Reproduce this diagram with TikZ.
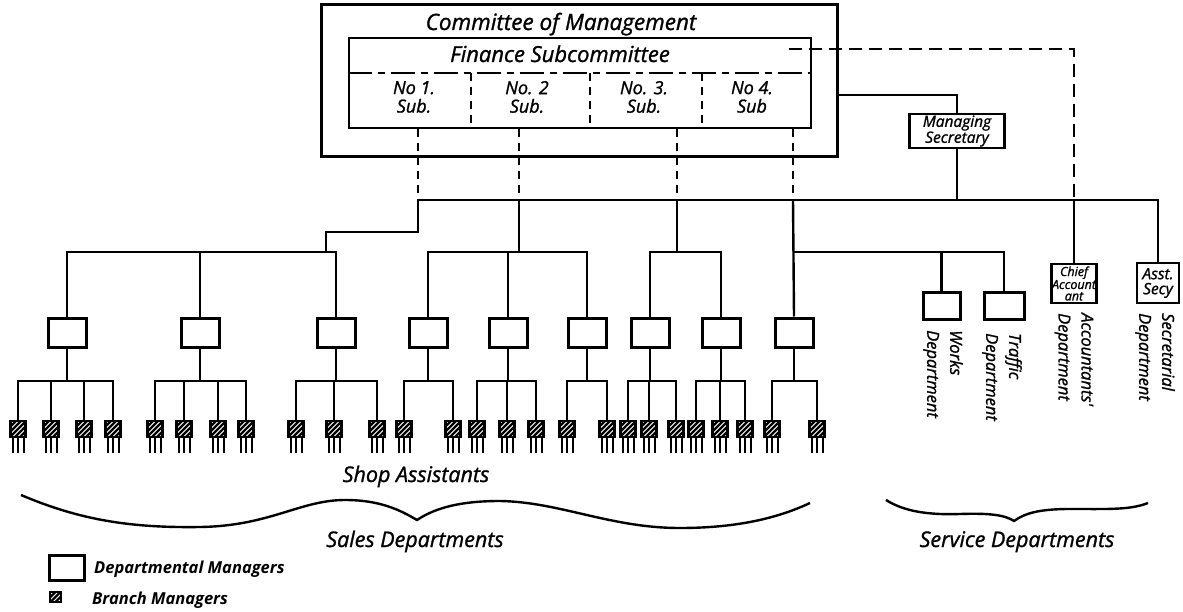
\documentclass[tikz,border=0pt]{standalone}
\usepackage{fontspec}
\setmainfont{Open Sans}
\newfontfamily\lab{Open Sans}[FakeBold=1.2]
\newfontfamily\labb{Open Sans}
\usetikzlibrary{calc}
\begin{document}
\begin{tikzpicture}[x=1pt,y=-1pt,
  ln/.style={line width=2.4pt},
  leg/.style={line width=2pt},
  dsh/.style={line width=2.2pt, dash pattern=on 8pt off 6pt},
  dshl/.style={line width=2.2pt, dash pattern=on 13pt off 7pt},
  dashdot/.style={line width=2.4pt, dash pattern=on 24pt off 6pt on 7pt off 6pt},
  dm/.style={draw, line width=3pt, minimum width=38pt, minimum height=29pt, inner sep=0pt},
  bm/.style={draw, line width=2.2pt, minimum width=15pt, minimum height=16pt, inner sep=0pt,
    path picture={\foreach \k in {-10,-5,0,5,10}
      \draw[line width=2.2pt] ([xshift=\k pt-9pt, yshift=-9pt]path picture bounding box.center) -- ++(18pt,18pt);}},
  sbox/.style={draw, line width=2.6pt, inner sep=0pt, align=center},
  ttl/.style={font=\lab\itshape\fontsize{22.5}{24}\selectfont, inner sep=0pt},
  fttl/.style={font=\lab\itshape\fontsize{22}{24}\selectfont, inner sep=0pt},
  sub/.style={font=\lab\itshape\fontsize{18}{18.5}\selectfont, inner sep=0pt, align=center},
  rot/.style={rotate=-90, anchor=west, align=left, inner sep=0pt, font=\lab\itshape\fontsize{16.5}{23}\selectfont},
  big/.style={font=\lab\itshape\fontsize{21.5}{24}\selectfont, inner sep=0pt},
  lgd/.style={font=\labb\bfseries\itshape\fontsize{16.5}{18}\selectfont, inner sep=0pt}
]
\useasboundingbox (0,0) rectangle (1183,612);

% Committee of Management
\node[draw, line width=3pt, minimum width=516pt, minimum height=152pt, inner sep=0pt] (com) at (579,81) {};
\node[ttl, anchor=base] (comt) at (561,30) {Committee of Management};
\node[draw, line width=2.8pt, minimum width=462pt, minimum height=90pt, inner sep=0pt] (fin) at (580,83) {};
\node[fttl, anchor=base] (fint) at (560,62) {Finance Subcommittee};
\coordinate (sepl) at (349,73);
\draw[dashdot] (fin.west |- sepl) -- (fin.east |- sepl);
\foreach \x in {471,590,702} \draw[dsh] (\x,73) -- (\x,128);

\node[sub] (s1) at (414,97) {No 1.\\Sub.};
\node[sub] (s2) at (527,97) {No. 2\\Sub.};
\node[sub] (s3) at (644,97) {No. 3.\\Sub.};
\node[sub] (s4) at (752,97) {No 4.\\Sub};

% Managing secretary and right side
\node[sbox, minimum width=95pt, minimum height=34pt, font=\lab\itshape\fontsize{15.5}{14}\selectfont] (ms) at (957,131) {Managing\\Secretary};
\node[sbox, minimum width=45pt, minimum height=39pt, font=\lab\itshape\fontsize{12.5}{11.5}\selectfont] (ca) at (1074,283.5) {Chief\\Account\\ant};
\node[sbox, minimum width=42pt, minimum height=40pt, font=\lab\itshape\fontsize{15.5}{15}\selectfont] (as) at (1158,283) {Asst.\\Secy};
\node[dm, minimum width=37pt, minimum height=26pt] (wk) at (941.5,306) {};
\node[dm, minimum width=40pt, minimum height=26pt] (tr) at (1004,306) {};

\node[rot] (wkl) at (943,330) {Works\\Department};
\node[rot] (trl) at (1002,333) {Traffic\\Department};
\node[rot] (cal) at (1074,313) {Accountants'\\Department};
\node[rot] (asl) at (1155,313) {Secretarial\\Department};

% junctions on the main bus
\coordinate (j1) at (418,200);
\coordinate (j2) at (519,200);
\coordinate (j3) at (677,200);
\coordinate (j4) at (793,200);
\coordinate (jms) at (957,200);
\coordinate (jca) at (1074,200);
\coordinate (jas) at (1158,200);
\coordinate (stp) at (418,232);
\coordinate (g1) at (326,252);
\coordinate (g2) at (519,252);
\coordinate (g3) at (677,252);
\coordinate (g4) at (793,252);
\coordinate (msk) at (957,95);
\coordinate (dst) at (789,49);
\coordinate (dk) at (1074,49);

% dashed links from the subcommittees
\foreach \j in {j1,j2,j3,j4} \draw[dsh] (fin.south -| \j) -- (\j);
\draw[dshl] (dst) -- (dk) -- (jca);

% solid links
\draw[ln] (com.east |- msk) -| (ms.north);
\draw[ln] (ms.south) -- (jms);
\draw[ln] (j1) -- (jas) -- (as.north);
\draw[ln] (jca) -- (ca.north);
\draw[ln] (j1) -- (stp) -| (g1);
\draw[ln] (j2) -- (g2);
\draw[ln] (j3) -- (g3);

% sales departments
\foreach \i/\dx/\lo/\hi/\lst in {1/67/18/113/{18,51,84,113}, 2/200/155/246/{155,184,218,246},
  3/336/296/377/{296,334,377}, 4/428/404/453/{404,453}, 5/508/477/536/{477,507,536},
  6/587/567/607/{567,607}, 7/650/628/676/{628,649,676}, 8/721/696/745/{696,720,745},
  9/794/772/817/{772,817}} {
  \node[dm] (d\i) at (\dx,332.5) {};
  \coordinate (sb\i) at (\dx,381);
  \foreach \bx in \lst {
    \node[bm] (b\i-\bx) at (\bx,429) {};
    \foreach \o in {-5.5,0,5.5} \draw[leg] ([xshift=\o pt]b\i-\bx.south) -- ++(0,15);
    \draw[ln] (b\i-\bx.north) -- (b\i-\bx.north |- sb\i);
  }
  \draw[ln] (b\i-\lo.north) |- (sb\i) -| (b\i-\hi.north);
  \draw[ln] (d\i.south) -- (sb\i);
}

\draw[ln] (d1.north) |- (g1) -| (d3.north);
\draw[ln] (d2.north) -- (d2.north |- g1);
\draw[ln] (d4.north) |- (g2) -| (d6.north);
\draw[ln] (d5.north) -- (d5.north |- g2);
\draw[ln] (d7.north) |- (g3) -| (d8.north);
\draw[ln] (j4) -- (d9.north);
\draw[ln] (g4) -| (tr.north);
\draw[ln] (wk.north) -- (wk.north |- g4);

% labels and braces
\node[big, anchor=base] (shop) at (416,482) {Shop Assistants};
\draw[line width=2.4pt] (21,495) .. controls (80,520) and (130,528) .. (200,527)
  .. controls (270,526) and (300,500) .. (345,500)
  .. controls (380,500) and (400,510) .. (417,520)
  .. controls (435,508) and (460,501) .. (500,501)
  .. controls (560,502) and (610,528) .. (680,528)
  .. controls (740,528) and (780,517) .. (810,503);
\node[big, anchor=base] (sales) at (415,547) {Sales Departments};
\draw[line width=2.4pt] (886,500) .. controls (905,512) and (930,515) .. (960,514)
  .. controls (990,513) and (1005,515) .. (1014,521)
  .. controls (1025,513) and (1040,509) .. (1070,509)
  .. controls (1110,509) and (1130,510) .. (1148,503);
\node[big, anchor=base] (serv) at (1017,547) {Service Departments};

% legend
\node[dm, minimum width=35pt, minimum height=25pt] (lg1) at (66.5,567.5) {};
\node[lgd, anchor=base west] (lg1t) at (94,573) {Departmental Managers};
\node[bm, minimum width=11pt, minimum height=10pt] (lg2) at (55.5,597) {};
\node[lgd, anchor=base west] (lg2t) at (92,604) {Branch Managers};
\end{tikzpicture}
\end{document}
